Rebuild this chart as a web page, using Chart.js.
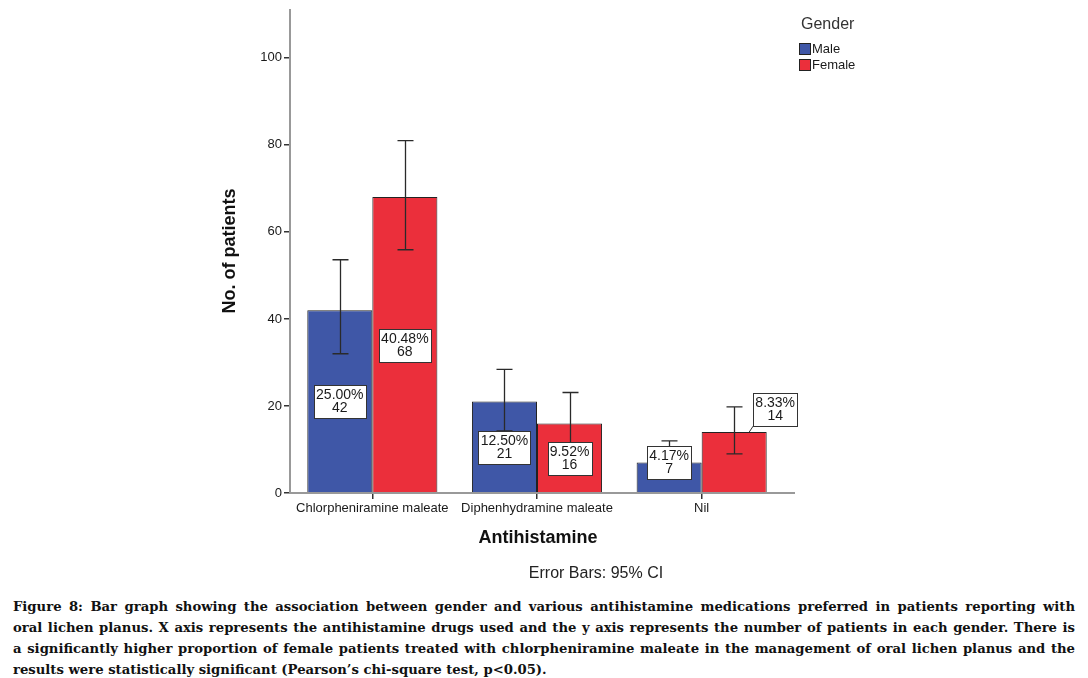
<!DOCTYPE html>
<html><head><meta charset="utf-8">
<script src="https://cdn.jsdelivr.net/npm/chart.js@4.4.1/dist/chart.umd.min.js"></script>
<style>
html,body{margin:0;padding:0;background:#fff;width:1088px;height:678px;overflow:hidden}
#wrap{position:absolute;left:0;top:0;width:1088px;height:590px}
#cap{position:absolute;left:13px;top:596px;width:1062px;font-family:"DejaVu Serif",serif;font-weight:bold;font-size:13.2px;color:#111}
#cap div{height:21px;line-height:21px;white-space:nowrap;text-align:justify;text-align-last:justify}
#cap div.last{text-align-last:left}
</style></head><body>
<div id="wrap"><canvas id="c" width="1088" height="590"></canvas></div>
<div id="cap">
<div>Figure 8: Bar graph showing the association between gender and various antihistamine medications preferred in patients reporting with</div>
<div>oral lichen planus. X axis represents the antihistamine drugs used and the y axis represents the number of patients in each gender. There is</div>
<div>a significantly higher proportion of female patients treated with chlorpheniramine maleate in the management of oral lichen planus and the</div>
<div class="last">results were statistically significant (Pearson’s chi-square test, p&lt;0.05).</div>
</div>
<script>
const categories = ["Chlorpheniramine maleate", "Diphenhydramine maleate", "Nil"];
const seriesNames = ["Male", "Female"];
const maleValues = [42, 21, 7];
const femaleValues = [68, 16, 14];
const malePercent = ["25.00%", "12.50%", "4.17%"];
const femalePercent = ["40.48%", "9.52%", "8.33%"];
const maleLower = [32.0, 14.3, 3.3];
const maleUpper = [53.6, 28.4, 12.0];
const femaleLower = [55.9, 10.3, 9.0];
const femaleUpper = [81.0, 23.1, 19.8];
const yTicks = [0, 20, 40, 60, 80, 100];

const BLUE = "#3f57a7", RED = "#eb2f3b";
const FONT = "'Liberation Sans', Arial, sans-serif";

const errLow = [maleLower, femaleLower], errHigh = [maleUpper, femaleUpper];
const pctLabels = [malePercent, femalePercent];

const overlay = {
  id: "overlay",
  afterDatasetsDraw(chart) {
    const ctx = chart.ctx, ys = chart.scales.y, ca = chart.chartArea;
    ctx.save();
    ctx.strokeStyle = "#999"; ctx.lineWidth = 2;
    ctx.beginPath(); ctx.moveTo(ca.left, ys.getPixelForValue(0)); ctx.lineTo(795, ys.getPixelForValue(0)); ctx.stroke();
    // error bars
    ctx.strokeStyle = "#2a2a2a"; ctx.lineWidth = 1.3;
    chart.data.datasets.forEach((ds, di) => {
      const meta = chart.getDatasetMeta(di);
      meta.data.forEach((bar, i) => {
        const x = Math.round(bar.x) + 0.5;
        const y1 = ys.getPixelForValue(errLow[di][i]), y2 = ys.getPixelForValue(errHigh[di][i]);
        ctx.beginPath();
        ctx.moveTo(x, y1); ctx.lineTo(x, y2);
        ctx.moveTo(x - 8, y1); ctx.lineTo(x + 8, y1);
        ctx.moveTo(x - 8, y2); ctx.lineTo(x + 8, y2);
        ctx.stroke();
      });
    });
    // value label boxes
    ctx.font = "14px " + FONT;
    ctx.textAlign = "center"; ctx.textBaseline = "middle";
    const base = ys.getPixelForValue(0);
    chart.data.datasets.forEach((ds, di) => {
      const meta = chart.getDatasetMeta(di);
      meta.data.forEach((bar, i) => {
        const l1 = pctLabels[di][i], l2 = String(ds.data[i]);
        const w = Math.ceil(Math.max(ctx.measureText(l1).width, ctx.measureText(l2).width)) + 4;
        const h = 33;
        let cx = bar.x, cy = (bar.y + base) / 2;
        cy = Math.min(cy, base - 14 - h / 2);
        if (di === 1 && i === 2) {
          cx = bar.x + 19 + w / 2;
          cy = bar.y - 39 + h / 2;
          ctx.strokeStyle = "#333"; ctx.lineWidth = 1;
          ctx.beginPath(); ctx.moveTo(bar.x + 15, bar.y); ctx.lineTo(bar.x + 19, bar.y - 6); ctx.stroke();
        }
        const bx = Math.round(cx - w / 2) + 0.5, by = Math.round(cy - h / 2) + 0.5;
        ctx.fillStyle = "#fff"; ctx.fillRect(bx, by, w, h);
        ctx.strokeStyle = "#333"; ctx.lineWidth = 1; ctx.strokeRect(bx, by, w, h);
        ctx.fillStyle = "#1a1a1a";
        ctx.fillText(l1, cx, by + 10);
        ctx.fillText(l2, cx, by + 23);
      });
    });
    // axis titles
    ctx.fillStyle = "#111";
    ctx.font = "bold 18px " + FONT;
    ctx.fillText("Antihistamine", 538, 538);
    ctx.font = "16px " + FONT; ctx.fillStyle = "#222";
    ctx.fillText("Error Bars: 95% CI", 596, 574);
    ctx.save();
    ctx.translate(230, 251); ctx.rotate(-Math.PI / 2);
    ctx.font = "bold 18px " + FONT; ctx.fillStyle = "#111";
    ctx.fillText("No. of patients", 0, 0);
    ctx.restore();
    // legend
    ctx.textAlign = "left";
    ctx.font = "16px " + FONT; ctx.fillStyle = "#333";
    ctx.fillText("Gender", 801, 25);
    ctx.font = "13px " + FONT;
    [BLUE, RED].forEach((c, k) => {
      const y = 43 + k * 16;
      ctx.fillStyle = c; ctx.fillRect(799.5, y + 0.5, 11, 11);
      ctx.strokeStyle = "#222"; ctx.lineWidth = 1; ctx.strokeRect(799.5, y + 0.5, 11, 11);
      ctx.fillStyle = "#1a1a1a"; ctx.fillText(seriesNames[k], 812, y + 6.5);
    });
    ctx.restore();
  }
};

new Chart(document.getElementById("c"), {
  type: "bar",
  data: {
    labels: categories,
    datasets: [
      { label: seriesNames[0], data: maleValues, backgroundColor: BLUE, borderColor: "#222", borderWidth: 1 },
      { label: seriesNames[1], data: femaleValues, backgroundColor: RED, borderColor: "#222", borderWidth: 1 }
    ]
  },
  options: {
    responsive: false, animation: false,
    layout: { padding: { top: 10, right: 304, left: 0, bottom: 0 } },
    plugins: { legend: { display: false }, tooltip: { enabled: false } },
    datasets: { bar: { categoryPercentage: 0.79, barPercentage: 1.0 } },
    scales: {
      x: {
        grid: { display: true, offset: false, drawOnChartArea: false, drawTicks: true, tickLength: 6, color: "#333", lineWidth: 1.5 },
        border: { display: true, color: "#999", width: 2 },
        ticks: { color: "#1a1a1a", font: { family: FONT, size: 13 }, padding: 2, maxRotation: 0, autoSkip: false },
        afterFit(s) { s.height = 97; }
      },
      y: {
        min: 0, max: 111,
        grid: { display: true, drawOnChartArea: false, drawTicks: true, tickLength: 6, color: "#333", lineWidth: 1.5 },
        border: { display: true, color: "#999", width: 2 },
        ticks: { color: "#1a1a1a", font: { family: FONT, size: 13 }, padding: 2, stepSize: 20 },
        afterBuildTicks(s) { s.ticks = yTicks.map(v => ({ value: v })); },
        afterFit(s) { s.width = 290; }
      }
    }
  },
  plugins: [overlay]
});
</script>
</body></html>
